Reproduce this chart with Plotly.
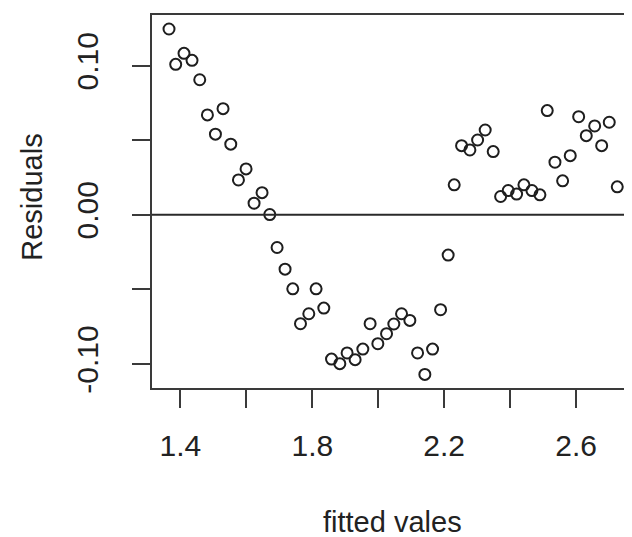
import plotly.graph_objects as go

fitted = [1.3654, 1.3857, 1.4109, 1.4352, 1.4586, 1.4819, 1.5062, 1.5293, 1.5527, 1.5760,
          1.5991, 1.6234, 1.6476, 1.6710, 1.6932, 1.7174, 1.7408, 1.7642, 1.7894, 1.8115,
          1.8349, 1.8583, 1.8835, 1.9056, 1.9299, 1.9533, 1.9754, 1.9988, 2.0252, 2.0473,
          2.0707, 2.0959, 2.1193, 2.1414, 2.1648, 2.1891, 2.2121, 2.2304, 2.2528, 2.2780,
          2.3014, 2.3244, 2.3487, 2.3712, 2.3942, 2.4197, 2.4419, 2.4662, 2.4904, 2.5126,
          2.5360, 2.5593, 2.5824, 2.6079, 2.6310, 2.6565, 2.6777, 2.7007, 2.7250]
residuals = [0.1246, 0.1009, 0.1083, 0.1036, 0.0906, 0.0670, 0.0541, 0.0712, 0.0474, 0.0234,
             0.0308, 0.0078, 0.0149, 0.0002, -0.0219, -0.0364, -0.0496, -0.0730, -0.0663, -0.0496,
             -0.0625, -0.0967, -0.0998, -0.0926, -0.0971, -0.0900, -0.0730, -0.0864, -0.0797, -0.0732,
             -0.0663, -0.0708, -0.0926, -0.1070, -0.0900, -0.0636, -0.0270, 0.0201, 0.0464, 0.0435,
             0.0502, 0.0569, 0.0424, 0.0123, 0.0163, 0.0139, 0.0201, 0.0163, 0.0134, 0.0699,
             0.0353, 0.0228, 0.0397, 0.0658, 0.0531, 0.0596, 0.0464, 0.0621, 0.0188]

x_tickvals = [1.4, 1.6, 1.8, 2.0, 2.2, 2.4, 2.6]
x_ticktext = ["1.4", "", "1.8", "", "2.2", "", "2.6"]
y_tickvals = [-0.10, -0.05, 0.00, 0.05, 0.10]
y_ticktext = ["-0.10", "", "0.00", "", "0.10"]

FONT = "Liberation Sans, Arial, sans-serif"
AX = "#3a3a3a"

# page body has an 8px margin; compensate so the plot lands where the reference has it
OFF = 8
W, H = 632 - OFF, 537 - OFF
L, T, B, R = 152 - OFF, 15 - OFF, 537 - 388, 0
PW, PH = W - L - R, H - T - B

fig = go.Figure()
fig.add_trace(go.Scatter(
    x=fitted, y=residuals, mode="markers",
    marker=dict(symbol="circle-open", size=11, color="#1e1e1e", line=dict(width=2, color="#1e1e1e")),
    showlegend=False, hoverinfo="skip"))

fig.add_hline(y=0, line=dict(color="#2a2a2a", width=2))

fig.update_layout(
    width=W, height=H,
    margin=dict(l=L, r=R, t=T, b=B),
    paper_bgcolor="white", plot_bgcolor="white",
    font=dict(family=FONT, size=30, color="#222222"),
    xaxis=dict(range=[1.3138, 2.7697], showgrid=False, zeroline=False,
               showline=True, mirror=True, linecolor=AX, linewidth=2,
               ticks="outside", ticklen=18, tickwidth=2, tickcolor=AX,
               tickvals=x_tickvals, ticktext=x_ticktext, ticklabelstandoff=12),
    yaxis=dict(range=[-0.1161, 0.134], showgrid=False, zeroline=False,
               showline=True, linecolor=AX, linewidth=2,
               ticks="outside", ticklen=18, tickwidth=2, tickcolor=AX,
               tickvals=y_tickvals, ticktext=y_ticktext, tickangle=-90, ticklabelstandoff=22),
    annotations=[
        dict(text="fitted vales", xref="paper", yref="paper", x=(392.5 - 152) / PW, y=-133.7 / PH,
             xanchor="center", yanchor="middle", showarrow=False, font=dict(size=29)),
        dict(text="Residuals", xref="paper", yref="paper", x=-(152 - 31.7) / PW, y=(388 - 197) / PH,
             xanchor="center", yanchor="middle", textangle=-90, showarrow=False, font=dict(size=29)),
    ],
)

fig.write_html("out.html")
